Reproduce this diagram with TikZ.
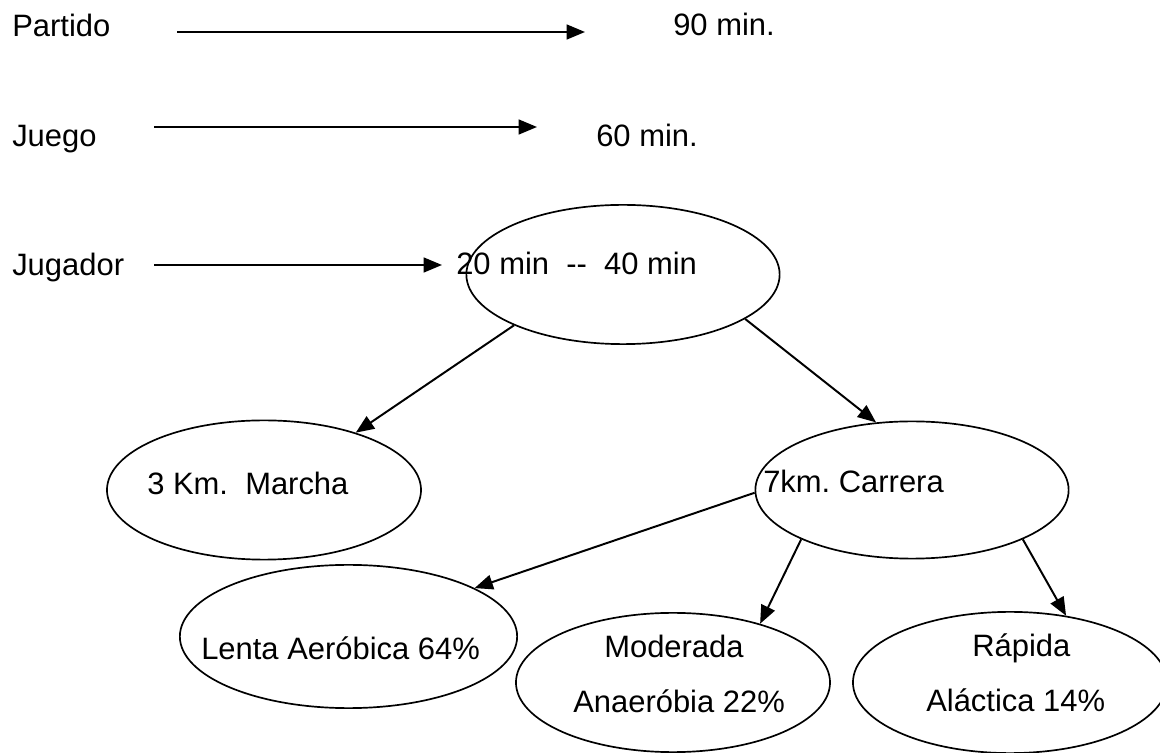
\documentclass[tikz,border=0pt]{standalone}
\usepackage{fontspec}
\setmainfont{Liberation Sans}
\usepackage{tikz}
\usetikzlibrary{shapes, arrows.meta, positioning}
\frenchspacing

\begin{document}
\begin{tikzpicture}[x=0.025cm, y=0.025cm,
        texto/.style={anchor=base west, inner sep=0pt, font=\fontsize{22}{26}\selectfont},
        elipse/.style={draw, ellipse, line width=1.2pt, inner sep=0pt, minimum width=7.85cm, minimum height=3.48cm},
        flecha/.style={-{Triangle[length=13pt, width=10.5pt]}, line width=1.4pt}]
        \useasboundingbox (0,0) rectangle (1160,-753);
        \clip (0,0) rectangle (1160,-753);

        \node[texto] (partido) at (12,-37) {Partido};
        \node[texto] (min90) at (673,-36) {90 min.};
        \node[texto] (juego) at (12,-147) {Juego};
        \node[texto] (min60) at (596,-147) {60 min.};
        \node[texto] (jugador) at (12,-276) {Jugador};
        \node[texto] (t2040) at (456,-275) {20 min\ \ -{}-\ \ 40 min};

        \coordinate (ini1) at (177,-32);
        \coordinate (fin1) at (585,-32);
        \coordinate (ini2) at (154,-127);
        \coordinate (fin2) at (537,-127);
        \coordinate (ini3) at (154,-265);
        \coordinate (fin3) at (442,-265);
        \draw[flecha] (ini1) -- (fin1);
        \draw[flecha] (ini2) -- (fin2);
        \draw[flecha] (ini3) -- (fin3);

        \node[elipse, minimum width=7.83cm] (jug) at (623,-274.5) {};
        \node[elipse] (mar) at (264,-490) {};
        \node[elipse, minimum width=7.83cm, minimum height=3.43cm] (car) at (912,-490) {};
        \node[elipse, minimum width=8.43cm, minimum height=3.58cm] (len) at (348.5,-636.5) {};
        \node[elipse] (mod) at (673,-682.5) {};
        \node[elipse, minimum height=3.53cm] (rap) at (1010,-682.5) {};

        \node[texto] (tmar) at (147,-495) {3 Km.\ \ Marcha};
        \node[texto] (tcar) at (763,-493) {7km. Carrera};
        \node[texto] (tlen) at (201,-660) {Lenta Aeróbica 64\%};
        \node[texto] (tmod1) at (604,-658) {Moderada};
        \node[texto] (tmod2) at (573,-713) {Anaeróbia 22\%};
        \node[texto] (trap1) at (972,-657) {Rápida};
        \node[texto] (trap2) at (926,-712) {Aláctica 14\%};

        \draw[flecha] (jug.-155) -- (mar.32);
        \draw[flecha] (jug.-20) -- (car.118);
        \draw[flecha] (car.181) -- (len.21);
        \draw[flecha] (car.-156) -- (mod.34);
        \draw[flecha] (car.-24) -- (rap.50);
    \end{tikzpicture}
\end{document}
